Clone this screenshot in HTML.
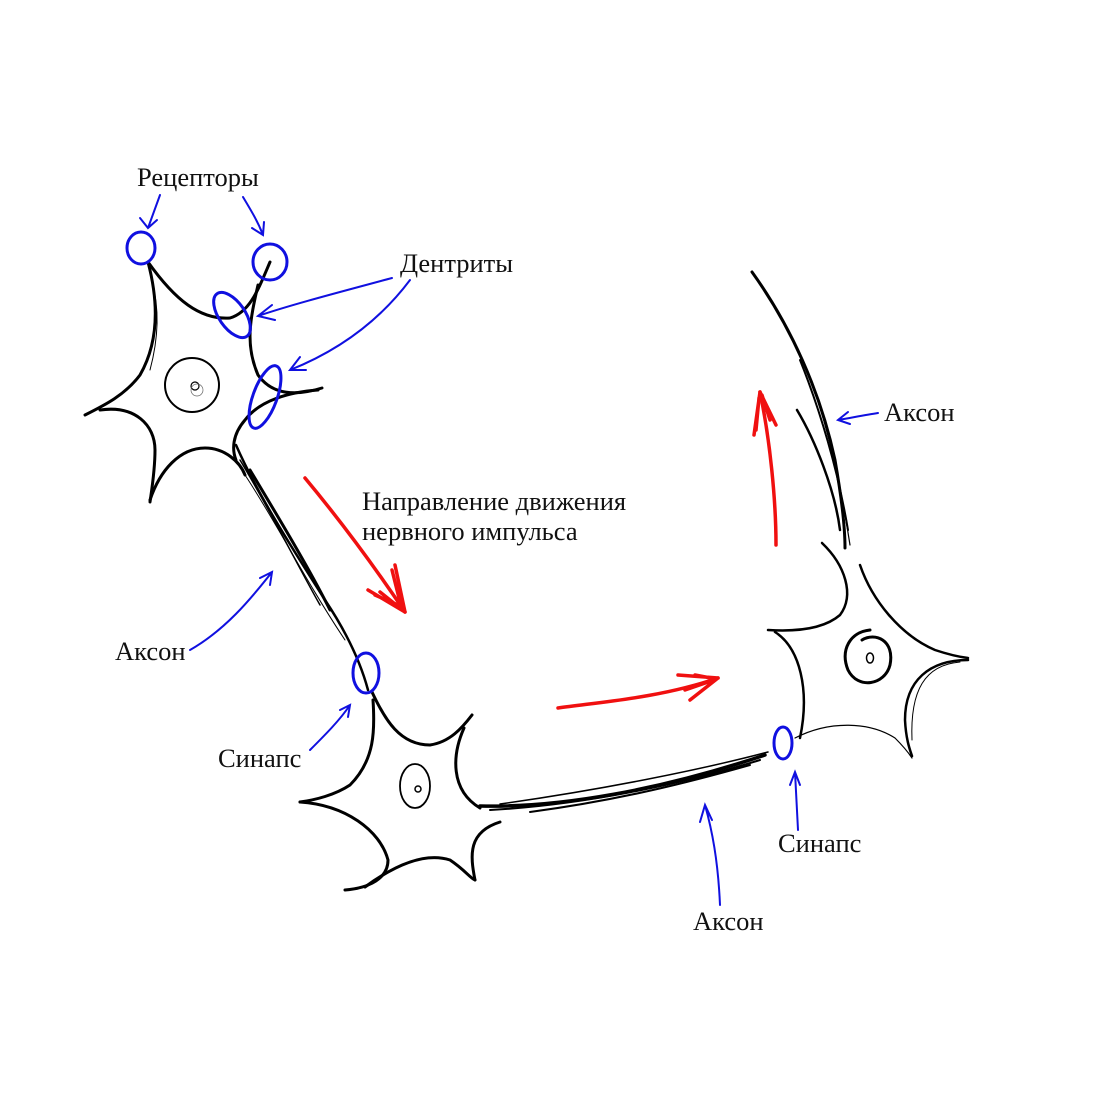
<!DOCTYPE html>
<html><head><meta charset="utf-8"><style>
html,body{margin:0;padding:0;background:#fff}
svg{display:block}
text{font-family:"Liberation Serif",serif;font-size:26.5px;fill:#111}
</style></head><body>
<svg width="1107" height="1107" viewBox="0 0 1107 1107" xmlns="http://www.w3.org/2000/svg">
<rect width="1107" height="1107" fill="#fff"/>
<g fill="none" stroke="#000" stroke-linecap="round">
<path d="M148,262 C158,300 160,340 140,375 C125,395 105,405 85,415" stroke-width="3"/>
<path d="M152,282 C160,310 158,340 150,370" stroke-width="1"/>
<path d="M148,262 C175,300 200,320 230,318 C250,312 258,290 270,262" stroke-width="3"/>
<path d="M258,285 C250,320 245,345 258,375 C270,392 290,398 322,388" stroke-width="3"/>
<path d="M318,390 C290,392 260,400 245,420 C232,435 232,450 236,460" stroke-width="3"/>
<path d="M100,410 C135,405 155,425 155,450 C155,470 152,488 150,502" stroke-width="3"/>
<path d="M150,500 C160,470 180,448 205,448 C225,448 240,462 245,475" stroke-width="3"/>
<circle cx="192" cy="385" r="27" stroke-width="2"/>
<circle cx="195" cy="386" r="4" stroke-width="1.2"/>
<circle cx="197" cy="390" r="6" stroke-width="0.7" stroke="#666"/>
<path d="M236,445 C260,500 300,560 325,600 C345,630 360,660 368,690" stroke-width="2.5"/>
<path d="M240,460 C270,510 300,570 320,605" stroke-width="1.5"/>
<path d="M245,475 C275,520 305,580 345,640" stroke-width="1"/>
<path d="M250,470 C280,520 310,570 330,610" stroke-width="3"/>
<path d="M373,700 C375,730 375,760 350,785 C335,795 315,800 300,802" stroke-width="3"/>
<path d="M372,692 C385,720 400,745 430,745 C450,742 462,728 472,715" stroke-width="3"/>
<path d="M464,728 C452,755 450,790 480,808" stroke-width="3"/>
<path d="M300,802 C345,805 380,830 388,860 C388,878 370,888 345,890" stroke-width="3"/>
<path d="M365,887 C395,865 425,852 450,860 C465,870 470,878 475,880" stroke-width="3"/>
<path d="M475,880 C470,855 468,832 500,822" stroke-width="3"/>
<ellipse cx="415" cy="786" rx="15" ry="22" stroke-width="1.8"/>
<circle cx="418" cy="789" r="3" stroke-width="1.5"/>
<path d="M480,806 C560,808 660,790 765,755" stroke-width="3.5"/>
<path d="M490,810 C580,805 680,785 760,760" stroke-width="2"/>
<path d="M500,804 C600,790 700,770 768,752" stroke-width="1.5"/>
<path d="M530,812 C620,800 690,782 750,765" stroke-width="2"/>
<path d="M752,272 C790,325 820,390 835,460 C842,500 845,530 845,548" stroke-width="3"/>
<path d="M800,360 C820,410 838,470 848,530" stroke-width="2"/>
<path d="M797,410 C815,440 835,490 840,530" stroke-width="2.5"/>
<path d="M808,372 C826,420 840,480 850,545" stroke-width="1.2"/>
<path d="M822,543 C845,565 855,595 840,615 C825,628 800,632 768,630" stroke-width="2.5"/>
<path d="M775,632 C800,648 810,690 800,738" stroke-width="2.5"/>
<path d="M795,738 C830,720 870,722 895,738 C905,748 910,755 912,758" stroke-width="1.2"/>
<path d="M860,565 C872,600 900,635 935,650 C950,655 960,657 968,658" stroke-width="2.5"/>
<path d="M968,660 C930,660 905,680 905,720 C906,740 910,750 912,756" stroke-width="2.5"/>
<path d="M960,662 C925,665 910,690 912,740" stroke-width="1"/>
<path d="M870,630 C850,632 840,650 848,670 C858,690 885,685 890,665 C895,640 875,632 862,640" stroke-width="3"/>
<ellipse cx="870" cy="658" rx="3.5" ry="5" stroke-width="1.5"/>
</g>
<g fill="none" stroke="#f01010" stroke-linecap="round" stroke-width="3.5">
<path d="M305,478 C340,520 370,560 405,612"/>
<path d="M405,612 L395,565 M405,612 L368,590 M400,608 L380,592 M402,610 L392,570 M398,605 L375,595"/>
<path d="M558,708 C600,702 660,698 718,678"/>
<path d="M718,678 L678,675 M718,678 L690,700 M714,680 L685,690 M716,679 L695,675"/>
<path d="M776,545 C776,500 770,440 760,392"/>
<path d="M760,392 L754,435 M760,392 L776,425 M762,395 L770,420 M759,398 L756,430"/>
</g>
<g fill="none" stroke="#1010e0" stroke-linecap="round" stroke-width="3">
<ellipse cx="141" cy="248" rx="14" ry="16"/>
<ellipse cx="270" cy="262" rx="17" ry="18"/>
<ellipse cx="232" cy="315" rx="13" ry="26" transform="rotate(-35 232 315)"/>
<ellipse cx="265" cy="397" rx="12" ry="33" transform="rotate(20 265 397)"/>
<ellipse cx="366" cy="673" rx="13" ry="20"/>
<ellipse cx="783" cy="743" rx="9" ry="16"/>
</g>
<g fill="none" stroke="#1010e0" stroke-linecap="round" stroke-width="2">
<path d="M160,195 L148,228 M140,218 L148,228 L157,220"/>
<path d="M243,197 C252,212 258,222 263,235 M252,228 L263,235 L264,222"/>
<path d="M392,278 C340,292 290,305 258,316 M272,305 L258,316 L275,320"/>
<path d="M410,280 C380,320 340,350 290,370 M300,357 L290,370 L306,370"/>
<path d="M190,650 C225,630 250,600 272,572 M260,578 L272,572 L270,585"/>
<path d="M310,750 C325,735 340,720 350,705 M340,710 L350,705 L348,717"/>
<path d="M720,905 C718,860 712,830 705,805 M700,822 L705,805 L712,820"/>
<path d="M798,830 C797,810 796,790 795,772 M790,785 L795,772 L800,785"/>
<path d="M878,413 C865,415 850,418 838,420 M848,412 L838,420 L850,424"/>
</g>
<text x="137" y="186">Рецепторы</text>
<text x="400" y="272">Дентриты</text>
<text x="884" y="421">Аксон</text>
<text x="362" y="510">Направление движения</text>
<text x="362" y="540">нервного импульса</text>
<text x="115" y="660">Аксон</text>
<text x="218" y="767">Синапс</text>
<text x="778" y="852">Синапс</text>
<text x="693" y="930">Аксон</text>
</svg>
</body></html>
